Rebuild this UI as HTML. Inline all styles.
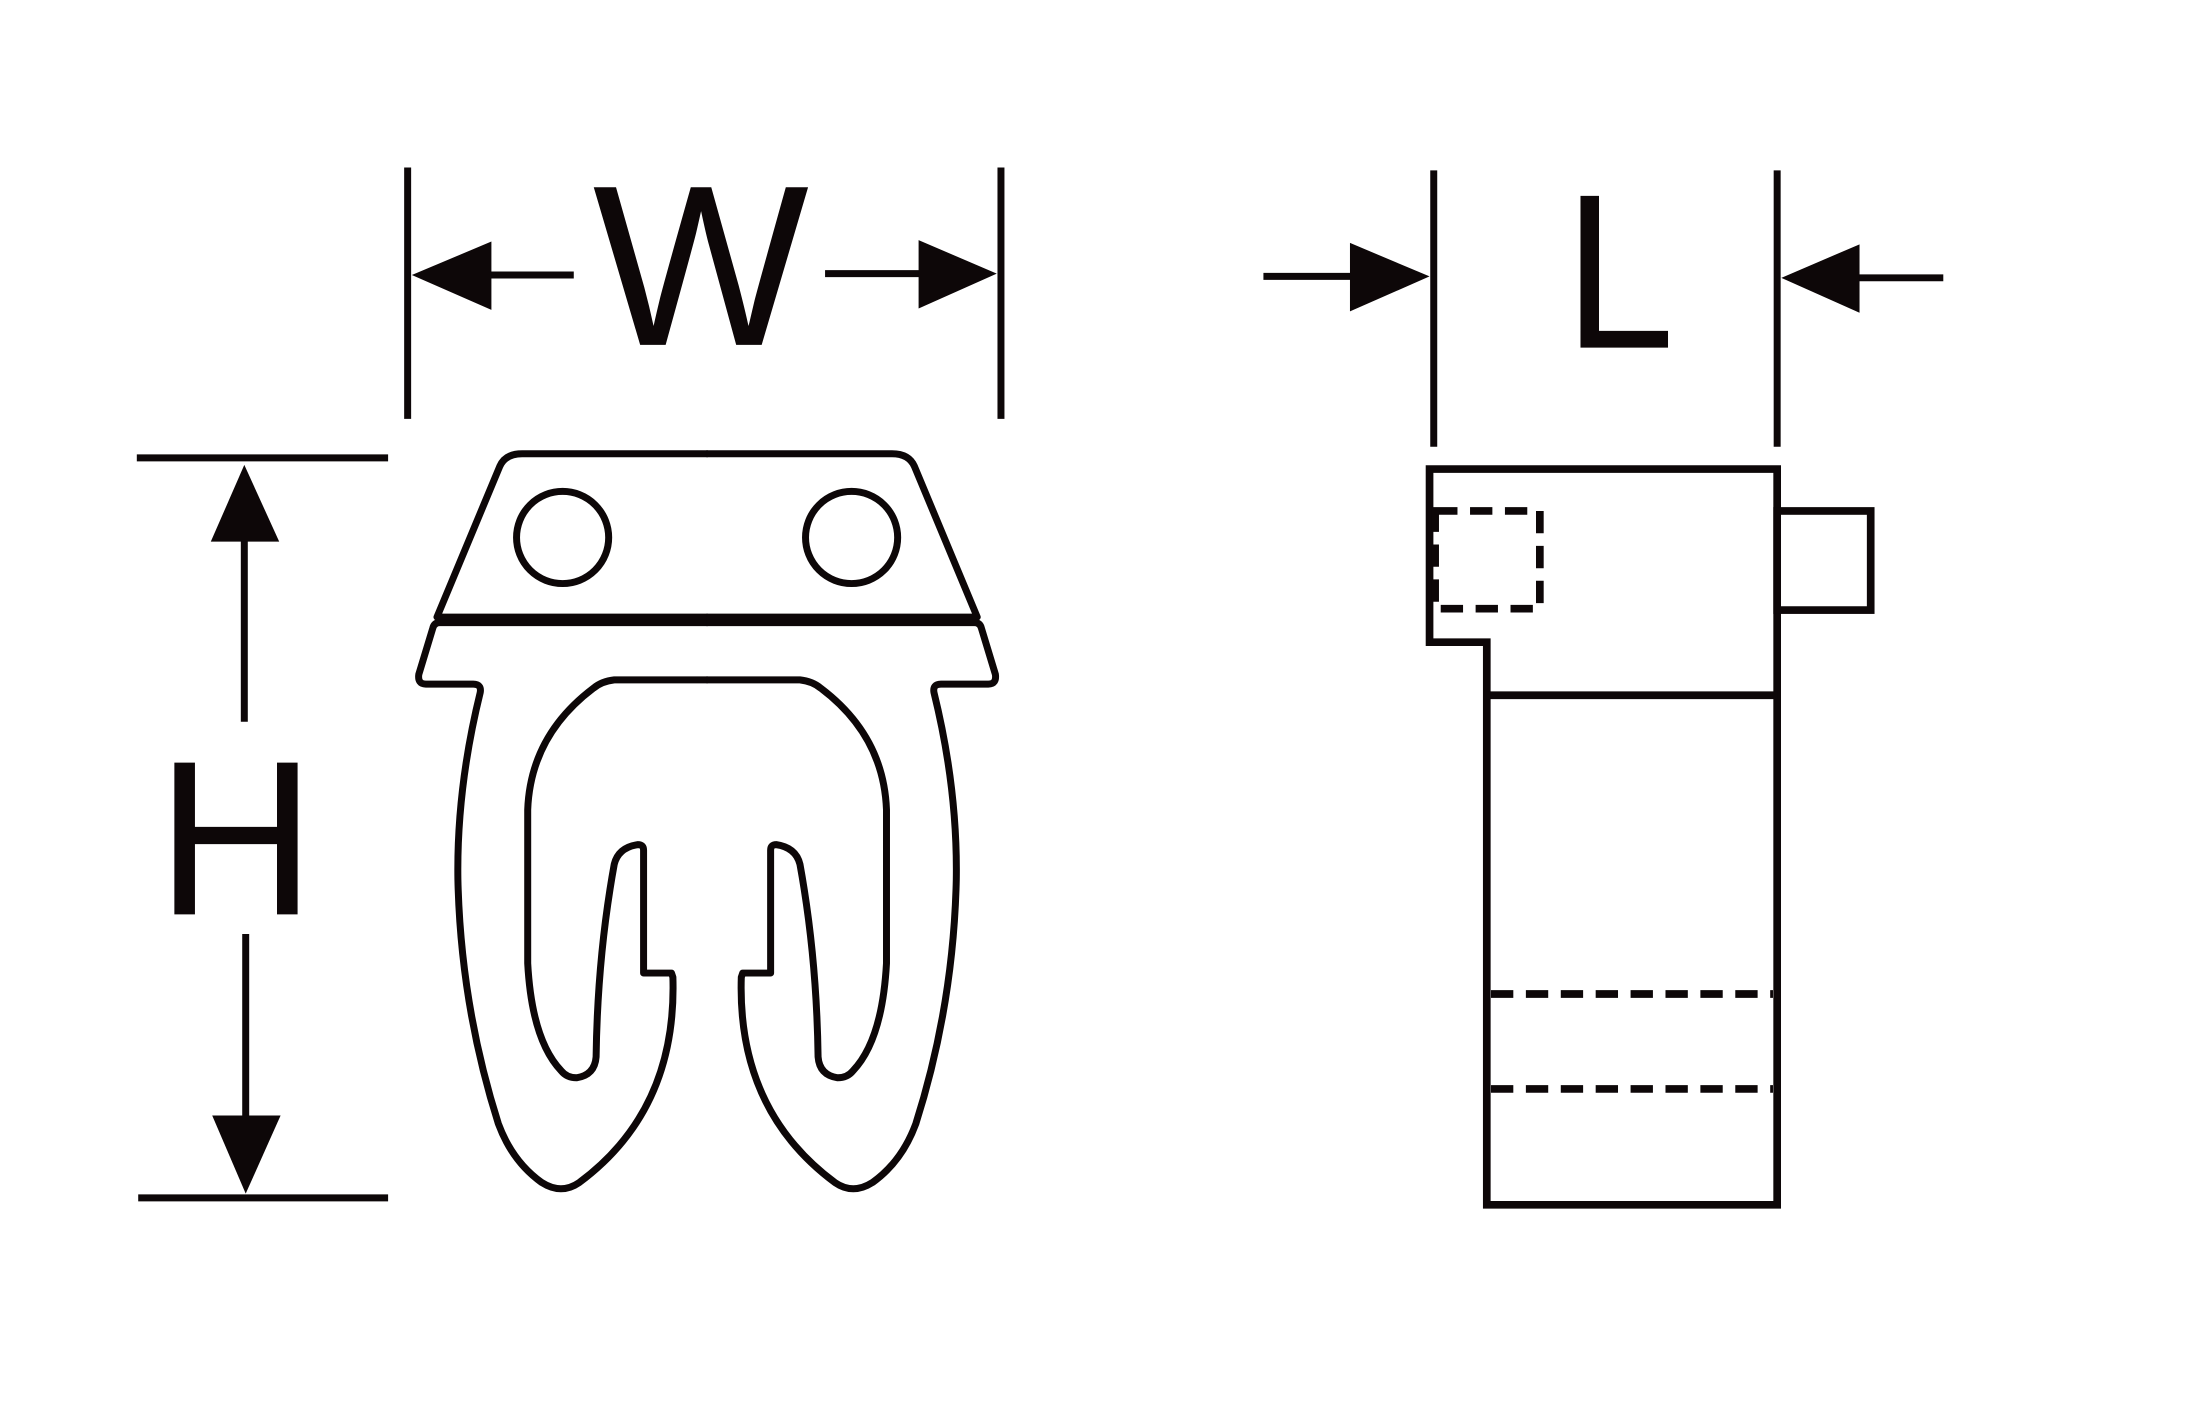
<!DOCTYPE html>
<html><head><meta charset="utf-8"><style>
html,body{margin:0;padding:0;background:#fff;}
svg{display:block;}
</style></head><body>
<svg width="2189" height="1424" viewBox="0 0 1568 1020" preserveAspectRatio="none" xmlns="http://www.w3.org/2000/svg">
<rect width="1568" height="1020" fill="#fff"/>
<g stroke="#0d0708" fill="none" stroke-width="5">
<line x1="292" y1="120" x2="292" y2="300"/>
<line x1="717" y1="120" x2="717" y2="300"/>
<line x1="340" y1="197" x2="411" y2="197"/>
<line x1="591" y1="196" x2="670" y2="196"/>
<line x1="1027" y1="122" x2="1027" y2="320"/>
<line x1="1273" y1="122" x2="1273" y2="320"/>
<line x1="905" y1="198" x2="980" y2="198"/>
<line x1="1320" y1="199" x2="1392" y2="199"/>
<line x1="98" y1="328" x2="278" y2="328"/>
<line x1="99" y1="858" x2="278" y2="858"/>
<line x1="175" y1="370" x2="175" y2="517"/>
<line x1="176" y1="669" x2="176" y2="815"/>
</g>
<g fill="#0d0708">
<polygon points="295,197 352,173 352,222"/>
<polygon points="714,196 658,172 658,221"/>
<polygon points="1024,198 967,174 967,223"/>
<polygon points="1276,199 1332,175 1332,224"/>
<polygon points="175,333 151,388 200,388"/>
<polygon points="176,855 152,799 201,799"/>
<text x="502" y="247" font-family="Liberation Sans, sans-serif" font-size="164" text-anchor="middle">W</text>
<text x="1160" y="249" font-family="Liberation Sans, sans-serif" font-size="158" text-anchor="middle" transform="translate(1160,0) scale(0.9,1) translate(-1160,0)">L</text>
<text x="169" y="655" font-family="Liberation Sans, sans-serif" font-size="158" text-anchor="middle">H</text>
</g>
<g stroke="#0d0708" fill="none" stroke-width="5" stroke-linejoin="round">
<g id="half">
<path d="M507,325 L374,325 Q362,325 358,334 L313,442 L507,442"/>
<circle cx="403" cy="385" r="33"/>
<path d="M507,446 L315,446 Q311,446 310,450 L300,483 Q299,490 305,490 L339,490 Q345,490 344,496 Q327,565 328,630 Q330,720 357,805 Q367,832 388,847 Q402,856 415,847 Q485,795 482,700 L481,697 L461,697 L461,609 Q461,605 457,605 Q443,607 440,619 Q428,685 427,757 Q426,770 413,772 Q406,772 402,767 Q381,745 378,690 L378,580 Q380,527 425,493 Q431,488 440,487 L507,487"/>
</g>
<use href="#half" transform="translate(1013,0) scale(-1,1)"/>
</g>
<g stroke="#0d0708" fill="none" stroke-width="5.5">
<path d="M1024,336 L1273,336 L1273,863 L1065,863 L1065,460 L1024,460 Z"/>
<line x1="1065" y1="498" x2="1273" y2="498"/>
<rect x="1273" y="366" width="67" height="71"/>
<g stroke-dasharray="16,9">
<rect x="1028" y="366" width="75" height="70"/>
<line x1="1068" y1="712" x2="1270" y2="712"/>
<line x1="1068" y1="780" x2="1270" y2="780"/>
</g>
</g>
</svg>
</body></html>
